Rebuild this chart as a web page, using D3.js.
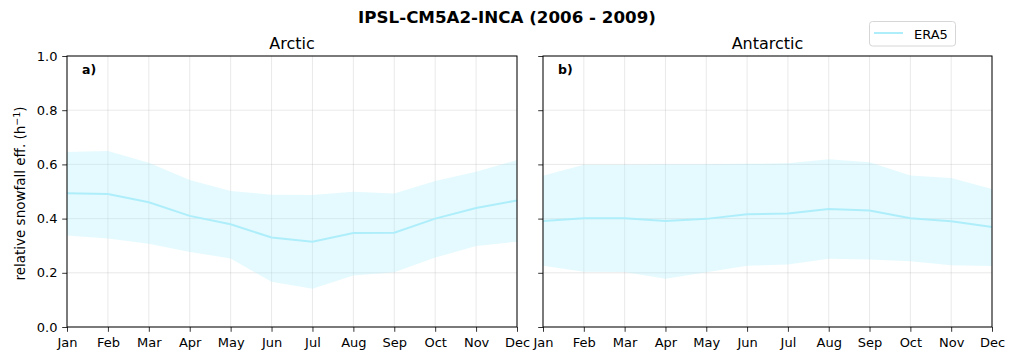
<!DOCTYPE html>
<html><head><meta charset="utf-8">
<script src="https://cdn.jsdelivr.net/npm/d3@7"></script>
<style>body{margin:0;background:#fff;} text{font-family:"DejaVu Sans",sans-serif;}</style>
</head><body><svg id="c" width="1015" height="360"></svg>
<script>
const months = ["Jan","Feb","Mar","Apr","May","Jun","Jul","Aug","Sep","Oct","Nov","Dec"];
const yTicks = [0.0,0.2,0.4,0.6,0.8,1.0];
const arcticMean  = [0.494,0.491,0.460,0.410,0.379,0.330,0.315,0.347,0.348,0.400,0.439,0.467];
const arcticUpper = [0.646,0.649,0.606,0.542,0.502,0.488,0.487,0.499,0.493,0.539,0.573,0.616];
const arcticLower = [0.338,0.327,0.307,0.277,0.253,0.167,0.141,0.190,0.202,0.256,0.299,0.315];
const antMean  = [0.391,0.401,0.401,0.391,0.399,0.416,0.419,0.435,0.430,0.401,0.390,0.369];
const antUpper = [0.558,0.599,0.599,0.601,0.601,0.602,0.604,0.619,0.608,0.559,0.550,0.509];
const antLower = [0.226,0.204,0.203,0.178,0.202,0.226,0.231,0.252,0.249,0.243,0.228,0.225];
const panels = [
  {title:"Arctic", label:"a)", mean:arcticMean, up:arcticUpper, lo:arcticLower, x0:67, x1:517, ylab:true},
  {title:"Antarctic", label:"b)", mean:antMean, up:antUpper, lo:antLower, x0:543, x1:992, ylab:false}
];
const lineColor = "#aeeefb";
const svg = d3.select("#c");
const yTop = 56, yBot = 327;
const y = d3.scaleLinear().domain([0,1]).range([yBot,yTop]);
const fs = 13;

panels.forEach(p => {
  const x = d3.scalePoint().domain(months).range([p.x0,p.x1]);
  const g = svg.append("g");
  g.selectAll("line.vg").data(months).join("line")
    .attr("x1",d=>x(d)).attr("x2",d=>x(d)).attr("y1",yTop).attr("y2",yBot)
    .attr("stroke","#b0b0b0").attr("stroke-opacity",0.35).attr("stroke-width",0.8);
  g.selectAll("line.hg").data(yTicks).join("line")
    .attr("x1",p.x0).attr("x2",p.x1).attr("y1",d=>y(d)).attr("y2",d=>y(d))
    .attr("stroke","#b0b0b0").attr("stroke-opacity",0.35).attr("stroke-width",0.8);
  const idx = d3.range(months.length);
  g.append("path").datum(idx)
    .attr("d", d3.area().x(i=>x(months[i])).y0(i=>y(p.lo[i])).y1(i=>y(p.up[i])))
    .attr("fill",lineColor).attr("fill-opacity",0.32);
  g.append("path").datum(idx)
    .attr("d", d3.line().x(i=>x(months[i])).y(i=>y(p.mean[i])))
    .attr("fill","none").attr("stroke",lineColor).attr("stroke-width",2);
  const ax = d3.axisBottom(x).tickSize(4.8).tickPadding(4.8);
  const gx = g.append("g").attr("transform",`translate(0,${yBot})`).call(ax);
  const ay = d3.axisLeft(y).tickValues(yTicks).tickSize(4.8).tickPadding(4.7)
    .tickFormat(p.ylab ? d3.format(".1f") : ()=>"");
  const gy = g.append("g").attr("transform",`translate(${p.x0},0)`).call(ay);
  [gx,gy].forEach(a=>{
    a.select(".domain").remove();
    a.selectAll("text").attr("font-size",fs).attr("font-family","DejaVu Sans").attr("fill","#000");
    a.selectAll("line").attr("stroke","#000").attr("stroke-width",0.8);
  });
  gx.selectAll("text").attr("y",20).attr("dy",0);
  g.append("rect").attr("x",p.x0).attr("y",yTop).attr("width",p.x1-p.x0).attr("height",yBot-yTop)
    .attr("fill","none").attr("stroke","#000").attr("stroke-width",1);
  g.append("text").attr("x",(p.x0+p.x1)/2).attr("y",49).attr("text-anchor","middle")
    .attr("font-size",16).text(p.title);
  g.append("text").attr("x",p.x0+15).attr("y",74).attr("font-size",12.5).attr("font-weight","bold").text(p.label);
  if (p.ylab) {
    const t = g.append("text").attr("transform",`translate(25,${(yTop+yBot)/2 + 2}) rotate(-90)`)
      .attr("text-anchor","middle").attr("font-size",13.5);
    t.append("tspan").text("relative snowfall eff. (h");
    t.append("tspan").attr("font-size",9.5).attr("dy",-5.5).text("−1");
    t.append("tspan").attr("dy",5.5).text(")");
  }
});
svg.append("text").attr("x",507).attr("y",22.5).attr("text-anchor","middle")
  .attr("font-size",16.7).attr("font-weight","bold").text("IPSL-CM5A2-INCA (2006 - 2009)");
const lg = svg.append("g");
lg.append("rect").attr("x",869.5).attr("y",21.5).attr("width",86).attr("height",24.5).attr("rx",3)
  .attr("fill","#fff").attr("fill-opacity",0.8).attr("stroke","#d6d6d6");
lg.append("line").attr("x1",874).attr("x2",903).attr("y1",33).attr("y2",33)
  .attr("stroke",lineColor).attr("stroke-width",2);
lg.append("text").attr("x",914).attr("y",38.5).attr("font-size",fs).text("ERA5");
</script></body></html>
